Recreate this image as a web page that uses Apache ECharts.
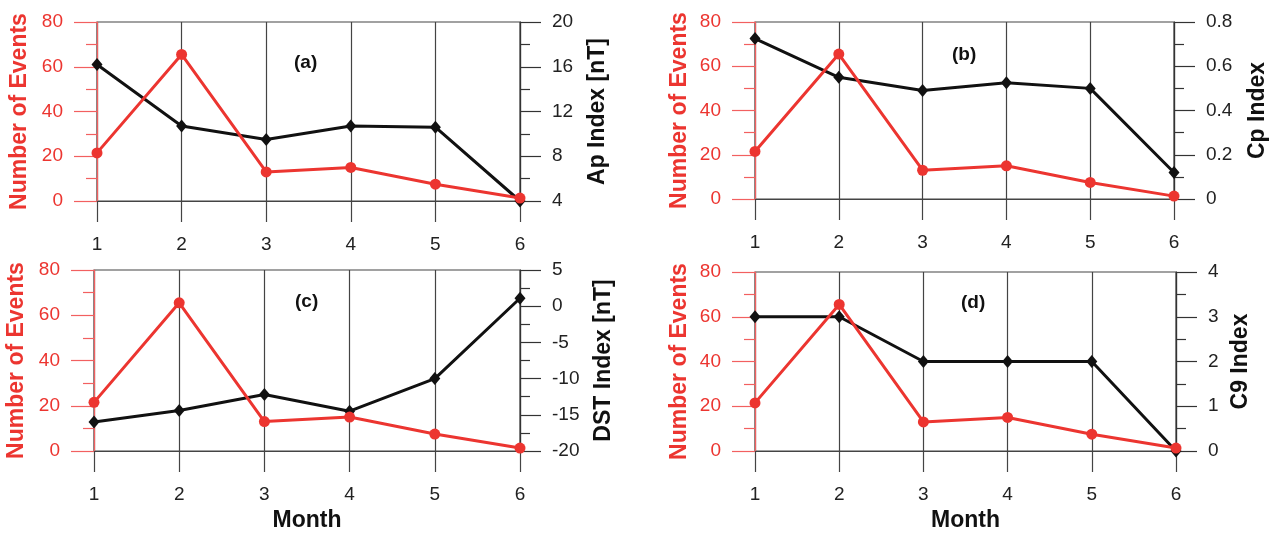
<!DOCTYPE html>
<html>
<head>
<meta charset="utf-8">
<script src="https://cdn.jsdelivr.net/npm/echarts@6/dist/echarts.min.js"></script>
<style>
  html, body { margin: 0; padding: 0; background: #fff; }
  #main { width: 1272px; height: 533px; }
</style>
</head>
<body>
<div id="main"></div>
<script>
// data
var months = [1, 2, 3, 4, 5, 6];
var events = [21.5, 65.5, 13, 15, 7.5, 1.3];
var apIndex = [16.2, 10.7, 9.5, 10.7, 10.6, 4.0];
var cpIndex = [0.725, 0.55, 0.49, 0.525, 0.50, 0.12];
var dstIndex = [-16.0, -14.4, -12.2, -14.5, -10.0, 1.1];
var c9Index = [3, 3, 2, 2, 2, 0];

// axis ranges [min, max, interval]
var eventsRange = [0, 80, 20];
var apRange = [4, 20, 4];
var cpRange = [0, 0.8, 0.2];
var dstRange = [-20, 5, 5];
var c9Range = [0, 4, 1];

var panels = [
  { tag: '(a)', name: 'Ap Index [nT]', values: apIndex, range: apRange,
    grid: { left: 97, top: 22, width: 423, height: 179 }, lGap: 66, rGap: 66, tagPos: [294, 53], month: false },
  { tag: '(b)', name: 'Cp Index', values: cpIndex, range: cpRange,
    grid: { left: 755, top: 22, width: 419, height: 177 }, lGap: 64, rGap: 72, tagPos: [952, 45], month: false },
  { tag: '(c)', name: 'DST Index [nT]', values: dstIndex, range: dstRange,
    grid: { left: 94, top: 270, width: 426, height: 182 }, lGap: 66, rGap: 72, tagPos: [295, 292], month: true },
  { tag: '(d)', name: 'C9 Index', values: c9Index, range: c9Range,
    grid: { left: 755, top: 272, width: 421, height: 182 }, lGap: 64, rGap: 53, tagPos: [961, 293], month: true }
];

var FONT = "'Liberation Sans', Arial, sans-serif";
var RED = '#ec3530';
var RED_AXIS = '#f26060';
var GRAY = '#444';

function pairs(vals) {
  return months.map(function (m, i) { return [m, vals[i]]; });
}

var option = {
  animation: false,
  backgroundColor: '#fff',
  title: [], grid: [], xAxis: [], yAxis: [], series: []
};

panels.forEach(function (p, i) {
  option.grid.push({
    left: p.grid.left, top: p.grid.top, width: p.grid.width, height: p.grid.height,
    show: true, borderColor: GRAY, borderWidth: 1.2
  });
  option.title.push({
    text: p.tag, left: p.tagPos[0], top: p.tagPos[1], padding: 0,
    textStyle: { fontFamily: FONT, fontSize: 19, fontWeight: 'bold', color: '#111' }
  });
  option.xAxis.push({
    type: 'value', gridIndex: i, min: 1, max: 6, interval: 1,
    name: p.month ? 'Month' : '', nameLocation: 'middle', nameGap: 58,
    nameTextStyle: { fontFamily: FONT, fontSize: 23, fontWeight: 'bold', color: '#111' },
    axisLine: { show: true, lineStyle: { color: GRAY, width: 1.2 } },
    axisTick: { show: true, inside: false, length: 21, lineStyle: { color: GRAY, width: 1.2 } },
    axisLabel: { margin: 34, fontFamily: FONT, fontSize: 19, color: '#222' },
    splitLine: { show: true, lineStyle: { color: GRAY, width: 1.2 } }
  });
  // left: number of events
  option.yAxis.push({
    type: 'value', gridIndex: i, position: 'left',
    min: eventsRange[0], max: eventsRange[1], interval: eventsRange[2],
    name: 'Number of Events', nameLocation: 'middle', nameGap: p.lGap, nameRotate: 90,
    nameTextStyle: { fontFamily: FONT, fontSize: 23, fontWeight: 'bold', color: RED },
    axisLine: { show: true, lineStyle: { color: RED_AXIS, width: 1.2 } },
    axisTick: { show: true, inside: false, length: 23, lineStyle: { color: RED_AXIS, width: 1.2 } },
    minorTick: { show: true, splitNumber: 2, length: 11, lineStyle: { color: RED_AXIS, width: 1.2 } },
    axisLabel: { margin: 34, fontFamily: FONT, fontSize: 19, color: RED },
    splitLine: { show: false }
  });
  // right: geomagnetic index
  option.yAxis.push({
    type: 'value', gridIndex: i, position: 'right',
    min: p.range[0], max: p.range[1], interval: p.range[2],
    name: p.name, nameLocation: 'middle', nameGap: p.rGap, nameRotate: 90,
    nameTextStyle: { fontFamily: FONT, fontSize: 23, fontWeight: 'bold', color: '#111' },
    axisLine: { show: true, lineStyle: { color: '#333', width: 1.2 } },
    axisTick: { show: true, inside: false, length: 21, lineStyle: { color: '#333', width: 1.2 } },
    minorTick: { show: true, splitNumber: 2, length: 10, lineStyle: { color: '#333', width: 1.2 } },
    axisLabel: { margin: 32, fontFamily: FONT, fontSize: 19, color: '#222' },
    splitLine: { show: false }
  });
  option.series.push({
    type: 'line', xAxisIndex: i, yAxisIndex: 2 * i + 1,
    data: pairs(p.values),
    symbol: 'diamond', symbolSize: [11, 13],
    lineStyle: { color: '#111', width: 3 },
    itemStyle: { color: '#111' },
    z: 3
  });
  option.series.push({
    type: 'line', xAxisIndex: i, yAxisIndex: 2 * i,
    data: pairs(events),
    symbol: 'circle', symbolSize: 11,
    lineStyle: { color: RED, width: 3 },
    itemStyle: { color: RED },
    z: 4
  });
});

var myChart = echarts.init(document.getElementById('main'));
myChart.setOption(option);
</script>
</body>
</html>
